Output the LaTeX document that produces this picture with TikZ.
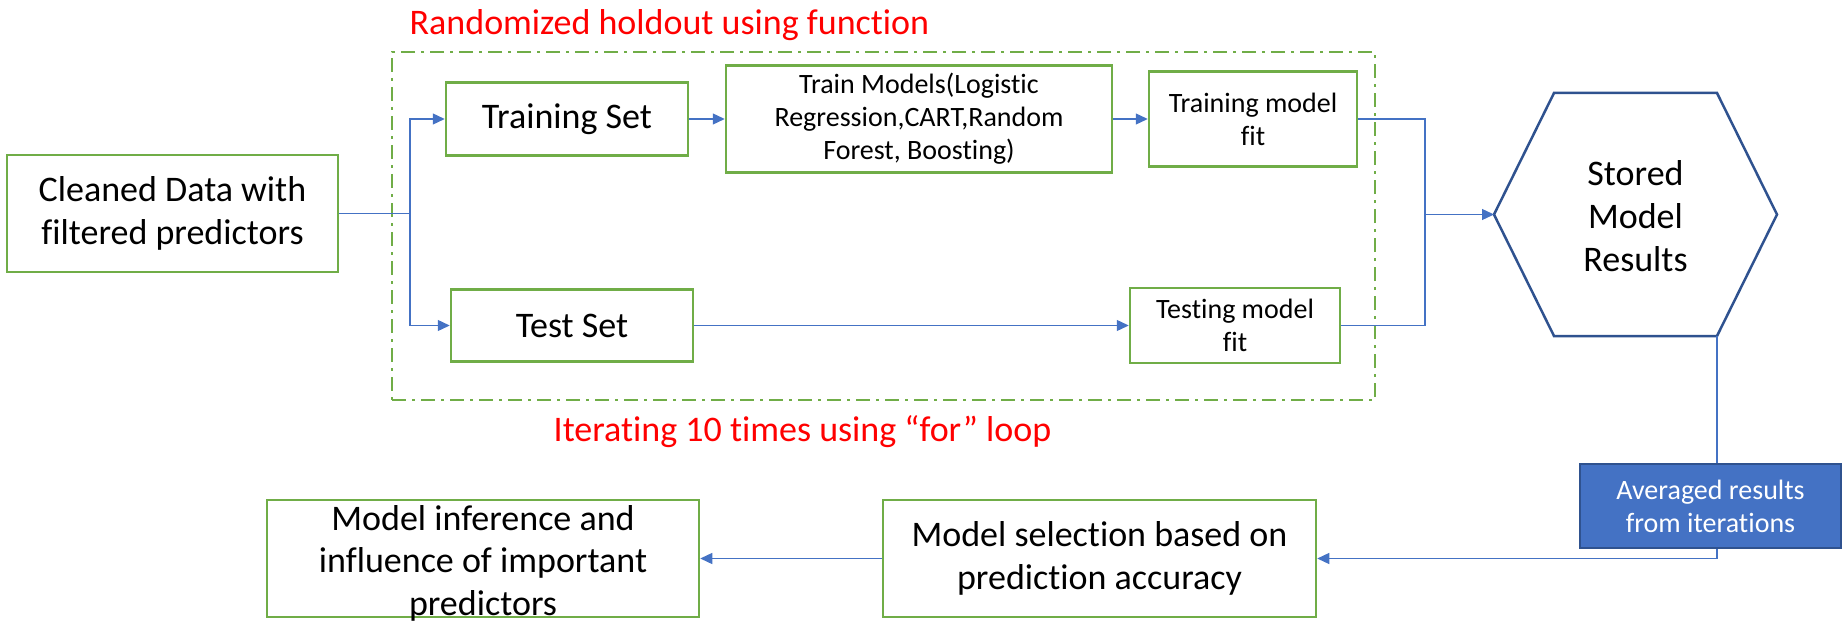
\documentclass[tikz,border=0pt]{standalone}
\usepackage{fontspec}
\setmainfont{Carlito}[Ligatures={NoCommon}]
\usetikzlibrary{arrows.meta}
\definecolor{boxgreen}{HTML}{70AD47}
\definecolor{lineblue}{HTML}{4472C4}
\definecolor{darkblue}{HTML}{2F528F}
\definecolor{titlered}{HTML}{FF0000}
\begin{document}
\begin{tikzpicture}[x=1pt,y=-1pt,
  gbox/.style={draw=boxgreen,line width=2.5pt,inner sep=0pt,align=center,fill=white},
  bigtext/.style={font=\fontsize{36}{43}\selectfont},
  smalltext/.style={font=\fontsize{28}{33}\selectfont},
  conn/.style={draw=lineblue,line width=1.3pt},
  arr/.style={conn,-{Triangle[length=12pt,width=11pt]}},
  loopframe/.style={draw=boxgreen,line width=2.3pt,dash pattern=on 14pt off 6pt on 3pt off 6pt,inner sep=0pt},
  hexline/.style={draw=darkblue,line width=2.5pt,line join=miter},
  avgbox/.style={fill=lineblue,draw=darkblue,line width=2.5pt,inner sep=0pt,align=center,text=white},
]
\useasboundingbox (0,0) rectangle (1848,623);

% dashed loop frame
\node[loopframe,minimum width=983pt,minimum height=348pt] (loop) at (883.5,226) {};

% labels
\node[bigtext,text=titlered,anchor=base] (title) at (669.5,35) {Randomized holdout using function};
\node[bigtext,text=titlered,anchor=base] (iter) at (802.5,441) {Iterating 10 times using “for” loop};

% boxes
\node[gbox,bigtext,minimum width=331pt,minimum height=117pt] (clean) at (172.5,213.5) {Cleaned Data with\\filtered predictors};
\node[gbox,bigtext,minimum width=242pt,minimum height=73pt] (train) at (567,119) {Training Set};
\node[gbox,smalltext,minimum width=386pt,minimum height=107pt] (models) at (919,119) {Train Models(Logistic\\Regression,CART,Random\\Forest, Boosting)};
\node[gbox,smalltext,minimum width=208pt,minimum height=95pt] (tfit) at (1253,119) {Training model\\fit};
\node[gbox,bigtext,minimum width=242pt,minimum height=72pt] (test) at (572,325.5) {Test Set};
\node[gbox,smalltext,minimum width=210pt,minimum height=75pt] (tsfit) at (1235,325.5) {Testing model\\fit};
\node[gbox,bigtext,minimum width=433pt,minimum height=117pt] (sel) at (1099.5,558.5) {Model selection based on\\prediction accuracy};
\node[gbox,minimum width=432pt,minimum height=117pt] (inf) at (483,558.5) {};
\node[font=\fontsize{36}{42.5}\selectfont,align=center,inner sep=0pt] (inftext) at (483,563) {Model inference and\\influence of important\\predictors};

% hexagon
\coordinate (hexL) at (1494,214.5);
\coordinate (hexTL) at (1554,93);
\coordinate (hexTR) at (1717,93);
\coordinate (hexR) at (1777,214.5);
\coordinate (hexBR) at (1717,336);
\coordinate (hexBL) at (1554,336);
\draw[hexline] (hexL) -- (hexTL) -- (hexTR) -- (hexR) -- (hexBR) -- (hexBL) -- cycle;
\node[bigtext,align=center,inner sep=0pt] (stored) at (1635.5,216) {Stored\\Model\\Results};

% connectors
\coordinate (j1) at (410,213.5);
\coordinate (j2) at (1425,214.5);
\draw[conn] (clean.east) -- (j1);
\draw[arr] (j1) |- (train.west);
\draw[arr] (j1) |- (test.west);
\draw[arr] (train.east) -- (models.west);
\draw[arr] (models.east) -- (tfit.west);
\draw[arr] (test.east) -- (tsfit.west);
\draw[conn] (tfit.east) -| (j2);
\draw[conn] (tsfit.east) -| (j2);
\draw[arr] (j2) -- (hexL);
\draw[arr] (hexBR) |- (sel.east);
\draw[arr] (sel.west) -- (inf.east);

% averaged results box (on top of the connector)
\node[avgbox,smalltext,minimum width=261pt,minimum height=84pt] (avg) at (1710.5,506) {Averaged results\\from iterations};
\end{tikzpicture}
\end{document}
